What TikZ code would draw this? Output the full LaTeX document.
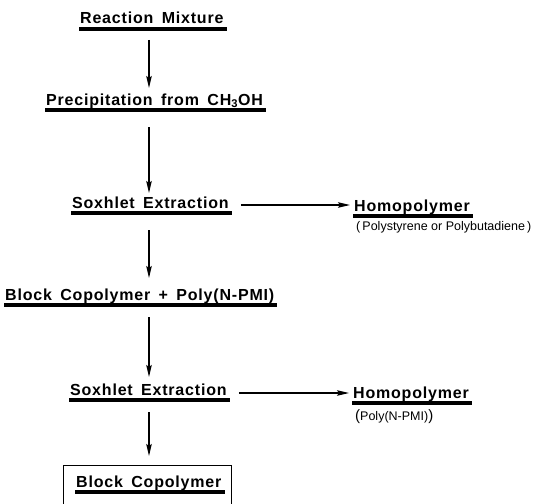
\documentclass[tikz,border=0pt]{standalone}
\usepackage{fontspec}
\setmainfont{Liberation Sans}
\newfontfamily\labelfont[LetterSpace=5,WordSpace=1.6]{Liberation Sans}
\newfontfamily\notefont{Liberation Sans}
\usepackage{tikz}
\usetikzlibrary{arrows.meta,calc,positioning}

\tikzset{
  step label/.style={anchor=base west, inner sep=0pt, font=\labelfont\bfseries\fontsize{16}{19}\selectfont},
  note label/.style={anchor=base west, inner sep=0pt, font=\notefont\fontsize{12.5}{15}\selectfont},
  uline/.style={line width=3.2pt},
  flow/.style={line width=1.3pt, -{Stealth[length=12pt,width=5.5pt,inset=2pt]}}
}
\newcommand{\bigpar}[1]{{\fontsize{15}{15}\selectfont #1}}

\begin{document}
\begin{tikzpicture}[x=1pt,y=-1pt]
\useasboundingbox (0,0) rectangle (551,503);
\clip (0,0) rectangle (551,503);
\coordinate (ax) at (149,0);
% steps
\node[step label] (rm) at (80,24) {Reaction Mixture};
\node[step label] (pp) at (46,105) {Precipitation from CH\textsubscript{3}OH};
\node[step label] (sx1) at (72,208) {Soxhlet Extraction};
\node[step label] (hp1) at (354,211) {Homopolymer};
\node[note label] (ps1) at (356,230) {(\,Polystyrene or Polybutadiene\,)};
\node[step label] (bc) at (5,300) {Block Copolymer + Poly(N-PMI)};
\node[step label] (sx2) at (70,395) {Soxhlet Extraction};
\node[step label] (hp2) at (353,398) {Homopolymer};
\node[note label] (ps2) at (355,420) {\bigpar{(}Poly(N-PMI)\bigpar{)}};
\node[draw, line width=1.3pt, anchor=north west, minimum width=168pt, minimum height=70pt] (bx) at (63,465) {};
\node[step label] (bcp) at (76,487) {Block Copolymer};
% underlines
\foreach \n in {rm,pp,sx1,hp1,bc,sx2,hp2,bcp}
  \draw[uline] ([xshift=-1pt,yshift=-5pt]\n.base west) -- ([xshift=3pt,yshift=-5pt]\n.base east);
% arrows
\draw[flow] ([yshift=-16pt]rm.base -| ax) -- ([yshift=17pt]pp.base -| ax);
\draw[flow] ([yshift=-22pt]pp.base -| ax) -- ([yshift=15pt]sx1.base -| ax);
\draw[flow] ([yshift=-22pt]sx1.base -| ax) -- ([yshift=22pt]bc.base -| ax);
\draw[flow] ([yshift=-17pt]bc.base -| ax) -- ([yshift=18pt]sx2.base -| ax);
\draw[flow] ([yshift=-17pt]sx2.base -| ax) -- ([yshift=9pt]bx.north -| ax);
\draw[flow] ([xshift=12pt,yshift=3pt]sx1.base east) coordinate (h1) -- ([xshift=-4pt]hp1.west |- h1);
\draw[flow] ([xshift=12pt,yshift=2pt]sx2.base east) coordinate (h2) -- ([xshift=-4pt]hp2.west |- h2);
\end{tikzpicture}
\end{document}
